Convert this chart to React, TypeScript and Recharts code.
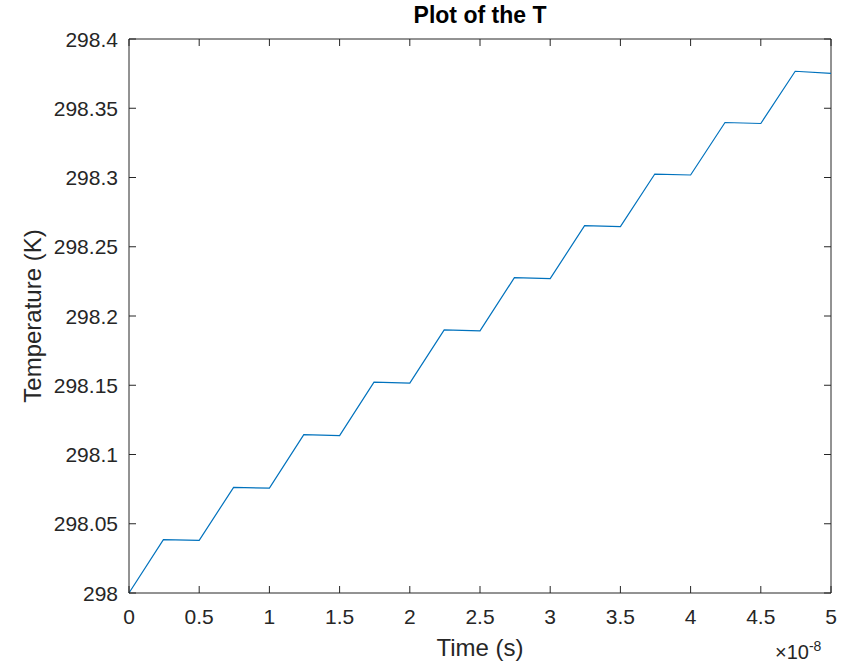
import { Label, Line, LineChart, ReferenceLine, XAxis, YAxis } from "recharts";

// time in units of 1e-8 s
const timeValues = [
  0, 0.245, 0.5, 0.745, 1.0, 1.245, 1.5, 1.745, 2.0, 2.245, 2.5, 2.745, 3.0, 3.245, 3.5,
  3.745, 4.0, 4.245, 4.5, 4.745, 5.0,
];
const tempValues = [
  298.0, 298.0385, 298.038, 298.0763, 298.0757, 298.1143, 298.1137, 298.1522, 298.1516,
  298.19, 298.1893, 298.2277, 298.227, 298.2652, 298.2645, 298.3025, 298.3018, 298.3397,
  298.339, 298.3767, 298.3752,
];
const xTicks = [0, 0.5, 1, 1.5, 2, 2.5, 3, 3.5, 4, 4.5, 5];
const yTicks = [298, 298.05, 298.1, 298.15, 298.2, 298.25, 298.3, 298.35, 298.4];

const data = timeValues.map((t, i) => ({ t, temp: tempValues[i] }));

const W = 843;
const H = 666;
const margin = { top: 39, right: 12, bottom: 33, left: 0 };
const X_AXIS_H = 40;
const Y_AXIS_W = 129;
// plot box edges, derived from the layout above
const box = {
  left: margin.left + Y_AXIS_W,
  right: W - margin.right,
  top: margin.top,
  bottom: H - margin.bottom - X_AXIS_H,
};
const TICK_LEN = 7;

const INK = "#262626";
const FONT = "'Liberation Sans', Arial, Helvetica, sans-serif";
const TICK_FS = 21;

function fmt(v: number) {
  return v.toFixed(2).replace(/0+$/, "").replace(/\.$/, "");
}

// MATLAB-style ticks: pointing inward, mirrored on the opposite side of the box
function XTick(props: any) {
  const { x, y, payload } = props;
  return (
    <g>
      <line x1={x} x2={x} y1={box.bottom} y2={box.bottom - TICK_LEN} stroke={INK} />
      <line x1={x} x2={x} y1={box.top} y2={box.top + TICK_LEN} stroke={INK} />
      <text x={x} y={y} dy="0.72em" textAnchor="middle" fill={INK} fontSize={TICK_FS} fontFamily={FONT}>
        {fmt(payload.value)}
      </text>
    </g>
  );
}

function YTick(props: any) {
  const { x, y, payload } = props;
  return (
    <g>
      <line x1={box.left} x2={box.left + TICK_LEN} y1={y} y2={y} stroke={INK} />
      <line x1={box.right} x2={box.right - TICK_LEN} y1={y} y2={y} stroke={INK} />
      <text x={x} y={y} dy="0.36em" textAnchor="end" fill={INK} fontSize={TICK_FS} fontFamily={FONT}>
        {fmt(payload.value)}
      </text>
    </g>
  );
}

export default function App() {
  return (
    <div style={{ position: "absolute", left: 0, top: 0, width: W, height: H, background: "#fff" }}>
      <LineChart width={W} height={H} data={data} margin={margin}>
        <XAxis
          xAxisId="x"
          dataKey="t"
          type="number"
          domain={[0, 5]}
          ticks={xTicks}
          height={X_AXIS_H}
          tickSize={0}
          tickMargin={16}
          tickLine={false}
          stroke={INK}
          tick={XTick}
          interval={0}
        >
          <Label value="Time (s)" position="bottom" offset={6} style={{ fill: INK, fontSize: 24, fontFamily: FONT }} />
        </XAxis>
        <YAxis
          yAxisId="y"
          type="number"
          domain={[298, 298.4]}
          ticks={yTicks}
          width={Y_AXIS_W}
          tickSize={0}
          tickMargin={11}
          tickLine={false}
          stroke={INK}
          tick={YTick}
          interval={0}
        >
          <Label
            value="Temperature (K)"
            angle={-90}
            position="insideLeft"
            offset={32}
            style={{ fill: INK, fontSize: 24, fontFamily: FONT, textAnchor: "middle" }}
          />
        </YAxis>
        <ReferenceLine xAxisId="x" yAxisId="y" y={298.4} stroke={INK} />
        <ReferenceLine xAxisId="x" yAxisId="y" x={5} stroke={INK} />
        <Line
          xAxisId="x"
          yAxisId="y"
          dataKey="temp"
          type="linear"
          stroke="#0072BD"
          strokeWidth={1.2}
          dot={false}
          isAnimationActive={false}
        />
      </LineChart>
      <div
        style={{
          position: "absolute",
          left: box.left,
          width: box.right - box.left,
          top: 1,
          textAlign: "center",
          fontFamily: FONT,
          fontWeight: "bold",
          fontSize: 23,
          color: "#000",
          lineHeight: "28px",
        }}
      >
        Plot of the T
      </div>
      <div
        style={{
          position: "absolute",
          left: 775,
          top: 641,
          fontFamily: FONT,
          fontSize: 20,
          color: INK,
          lineHeight: "22px",
          whiteSpace: "nowrap",
        }}
      >
        ×10<sup style={{ fontSize: 14, verticalAlign: "8px", lineHeight: 0 }}>-8</sup>
      </div>
    </div>
  );
}
